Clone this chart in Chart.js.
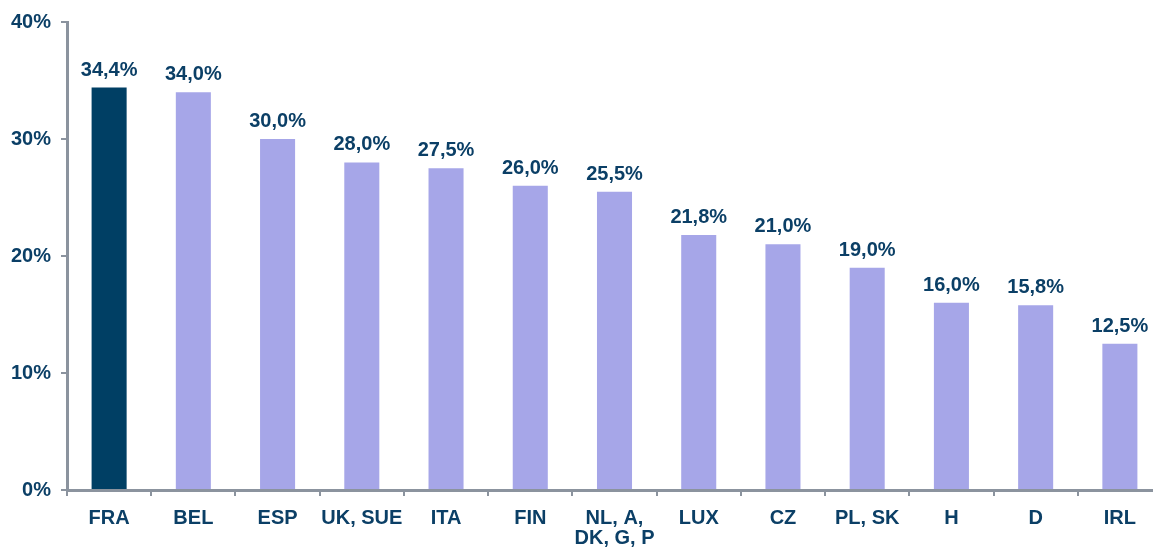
<!DOCTYPE html>
<html>
<head>
<meta charset="utf-8">
<script src="https://cdn.jsdelivr.net/npm/chart.js@4/dist/chart.umd.min.js"></script>
<style>
  html, body { margin: 0; padding: 0; background: #fff; overflow: hidden; }
  #wrap { width: 1165px; height: 548px; }
</style>
</head>
<body>
<div id="wrap"><canvas id="chart" width="1165" height="548"></canvas></div>
<script>
const categories = ["FRA", "BEL", "ESP", "UK, SUE", "ITA", "FIN", ["NL, A,", "DK, G, P"], "LUX", "CZ", "PL, SK", "H", "D", "IRL"];
const values = [34.4, 34.0, 30.0, 28.0, 27.5, 26.0, 25.5, 21.8, 21.0, 19.0, 16.0, 15.8, 12.5];
const yTicks = [0, 10, 20, 30, 40];

const textColor = "#0b3f66";
const axisColor = "#8b939e";
const barColors = values.map((v, i) => (i === 0 ? "#003f64" : "#a6a6e8"));

const fmt = (v) => v.toFixed(1).replace(".", ",") + "%";

// draws the value above each bar
const valueLabels = {
  id: "valueLabels",
  afterDatasetsDraw(chart) {
    const ctx = chart.ctx;
    const meta = chart.getDatasetMeta(0);
    ctx.save();
    ctx.font = "bold 20px 'Liberation Sans', Arial, sans-serif";
    ctx.fillStyle = textColor;
    ctx.textAlign = "center";
    ctx.textBaseline = "alphabetic";
    meta.data.forEach((bar, i) => {
      ctx.fillText(fmt(values[i]), bar.x, bar.y - 12);
    });
    ctx.restore();
  },
};

new Chart(document.getElementById("chart"), {
  type: "bar",
  data: {
    labels: categories,
    datasets: [
      {
        data: values,
        backgroundColor: barColors,
        borderWidth: 0,
        barPercentage: 0.416,
        categoryPercentage: 1,
      },
    ],
  },
  options: {
    responsive: false,
    animation: false,
    layout: { padding: { top: 21, right: 3, left: 0, bottom: 0 } },
    plugins: { legend: { display: false }, tooltip: { enabled: false } },
    scales: {
      x: {
        afterFit: (scale) => { scale.height = 58; },
        grid: {
          drawOnChartArea: false,
          drawTicks: true,
          tickLength: 6,
          color: axisColor,
          lineWidth: 2,
        },
        border: { color: axisColor, width: 3 },
        ticks: {
          color: textColor,
          font: { family: "'Liberation Sans', Arial, sans-serif", size: 20, weight: "bold", lineHeight: 1.0 },
          padding: 12,
          maxRotation: 0,
          autoSkip: false,
        },
      },
      y: {
        min: 0,
        max: 40,
        afterFit: (scale) => { scale.width = 67; },
        afterBuildTicks: (scale) => { scale.ticks = yTicks.map((v) => ({ value: v })); },
        grid: {
          drawOnChartArea: false,
          drawTicks: true,
          tickLength: 6,
          color: axisColor,
          lineWidth: 2,
        },
        border: { color: axisColor, width: 3 },
        ticks: {
          color: textColor,
          font: { family: "'Liberation Sans', Arial, sans-serif", size: 20, weight: "bold" },
          padding: 10,
          callback: (v) => v + "%",
        },
      },
    },
  },
  plugins: [valueLabels],
});
</script>
</body>
</html>
